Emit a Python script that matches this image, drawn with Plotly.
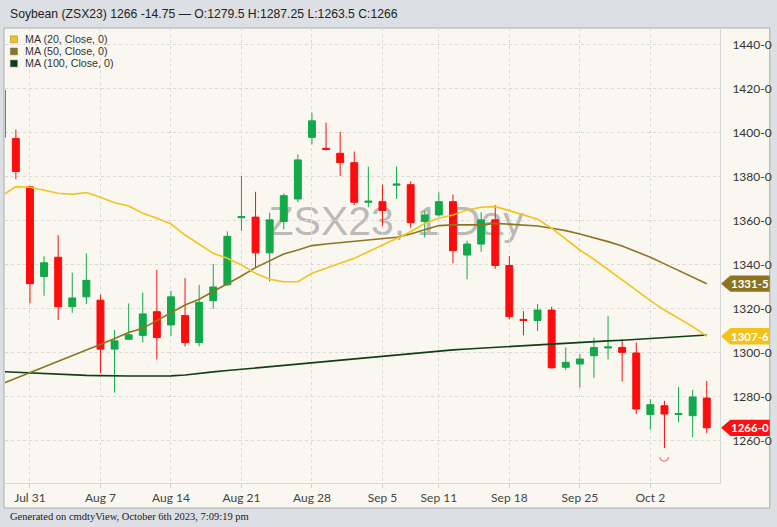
import plotly.graph_objects as go

# Soybean ZSX23 daily candles with moving averages
dates = [
    "2023-07-27", "2023-07-28", "2023-07-31", "2023-08-01", "2023-08-02", "2023-08-03", "2023-08-04",
    "2023-08-07", "2023-08-08", "2023-08-09", "2023-08-10", "2023-08-11",
    "2023-08-14", "2023-08-15", "2023-08-16", "2023-08-17", "2023-08-18",
    "2023-08-21", "2023-08-22", "2023-08-23", "2023-08-24", "2023-08-25",
    "2023-08-28", "2023-08-29", "2023-08-30", "2023-08-31", "2023-09-01",
    "2023-09-05", "2023-09-06", "2023-09-07", "2023-09-08",
    "2023-09-11", "2023-09-12", "2023-09-13", "2023-09-14", "2023-09-15",
    "2023-09-18", "2023-09-19", "2023-09-20", "2023-09-21", "2023-09-22",
    "2023-09-25", "2023-09-26", "2023-09-27", "2023-09-28", "2023-09-29",
    "2023-10-02", "2023-10-03", "2023-10-04", "2023-10-05", "2023-10-06",
]

opens = [1419.5, 1397.5, 1375.5, 1334.75, 1343.5, 1321, 1325.5, 1324, 1301.75, 1306.25,
         1308, 1318.75, 1312.75, 1317, 1304.75, 1323.75, 1331, 1361.5, 1361.75, 1345.5,
         1359.75, 1370, 1398, 1393, 1390.75, 1386.5, 1368.5, 1368.75, 1376.25, 1376.5,
         1359.75, 1362.75, 1368.75, 1344.5, 1349.5, 1360.5, 1339.75, 1315.25, 1314.75, 1319.5,
         1293.5, 1295, 1298.75, 1302.25, 1302.5, 1300, 1272, 1276, 1272, 1271.5, 1279.5]
highs = [1420, 1401.5, 1376, 1344, 1353.5, 1336.5, 1345.25, 1326.5, 1310.5, 1322.5,
         1327.5, 1337.75, 1328.25, 1334, 1331, 1340.5, 1355.25, 1380.5, 1373.25, 1363.75,
         1372.5, 1390.25, 1409.25, 1404.75, 1400.5, 1391.5, 1384.75, 1376.5, 1384.75, 1378,
         1364.5, 1373, 1372, 1351, 1364, 1367.25, 1344, 1319, 1322.25, 1321,
         1302.5, 1299.5, 1307, 1316.75, 1306.25, 1304.75, 1279, 1278.25, 1284.5, 1283.25, 1287.25]
lows = [1396, 1379, 1322.5, 1326, 1315, 1318.25, 1322.25, 1290.75, 1282, 1306,
        1304.75, 1297, 1307.75, 1303, 1303, 1320, 1330.5, 1355.5, 1338.75, 1332.5,
        1356.25, 1368.5, 1394.75, 1392, 1380.5, 1367.25, 1366.25, 1357.75, 1370, 1357,
        1352.5, 1362, 1340.75, 1333.5, 1346, 1338.25, 1315.25, 1308, 1310, 1293,
        1292.25, 1284.25, 1288.75, 1297, 1287, 1272.25, 1265.25, 1256.75, 1268.5, 1261.75, 1263.5]
closes = [1398, 1382.5, 1331.5, 1341, 1321, 1325, 1333, 1301.75, 1305.5, 1308.25,
          1317.75, 1307, 1325.5, 1304.75, 1323, 1330, 1353, 1362, 1345.5, 1360.5,
          1371.5, 1387.75, 1405.5, 1392.5, 1386.5, 1368.5, 1369, 1364.75, 1376.75, 1359.25,
          1362.75, 1368.75, 1346.5, 1349.5, 1360.5, 1339.75, 1316.5, 1314.75, 1319.5, 1293.25,
          1295.75, 1297.25, 1302.5, 1302.75, 1300.25, 1274.5, 1276.5, 1272.25, 1272.5, 1280, 1266]

ma20 = [1371.4, 1375.6, 1375.3, 1374.1, 1372.6, 1372.1, 1372.9, 1370.8, 1368.3, 1366.8,
        1363.5, 1361.2, 1358.6, 1353.6, 1349.5, 1345.3, 1343, 1340, 1336.2, 1333.5,
        1332.4, 1332.4, 1336.2, 1338.5, 1340.8, 1343, 1346, 1349.1, 1352.1, 1355.1,
        1358.9, 1361.2, 1362.7, 1365, 1366.2, 1366.5, 1364.7, 1362.7, 1360.8, 1356.7,
        1351.7, 1346.8, 1342.6, 1337.7, 1333.2, 1328.6, 1323.8, 1319.5, 1315.8, 1312, 1307.6]
ma50 = [1285.9, 1288.5, 1291.2, 1293.8, 1296.4, 1299.1, 1301.4, 1303.9, 1306.7, 1309.3,
        1311.2, 1314.7, 1318.3, 1321.8, 1324.4, 1327.9, 1331.4, 1335, 1338.8, 1341.8,
        1345, 1346.8, 1348.8, 1349.5, 1350.1, 1350.6, 1351.4, 1351.8, 1352.6, 1354.1,
        1355.9, 1357.9, 1358.2, 1358.2, 1358.2, 1358.9, 1358.6, 1358.2, 1357.7, 1356.7,
        1355.6, 1354.1, 1352.4, 1350.6, 1348.6, 1346, 1343.5, 1340.5, 1337.4, 1334.4, 1331.5]
ma100 = [1291.5, 1291.2, 1290.8, 1290.5, 1290.1, 1290, 1289.8, 1289.7, 1289.5, 1289.5,
         1289.5, 1289.5, 1289.6, 1290, 1290.8, 1291.4, 1292, 1292.6, 1293.1, 1293.7,
         1294.3, 1294.9, 1295.5, 1296.1, 1296.7, 1297.3, 1297.9, 1298.5, 1299.1, 1299.7,
         1300.3, 1300.9, 1301.4, 1301.8, 1302.2, 1302.5, 1302.9, 1303.3, 1303.6, 1304,
         1304.4, 1304.7, 1305.1, 1305.5, 1305.8, 1306.2, 1306.6, 1307, 1307.4, 1307.8, 1308.2]

week_ticks = ["2023-07-31", "2023-08-07", "2023-08-14", "2023-08-21", "2023-08-28",
              "2023-09-05", "2023-09-11", "2023-09-18", "2023-09-25", "2023-10-02"]
week_labels = ["Jul 31", "Aug 7", "Aug 14", "Aug 21", "Aug 28",
               "Sep 5", "Sep 11", "Sep 18", "Sep 25", "Oct 2"]
price_ticks = [1260, 1280, 1300, 1320, 1340, 1360, 1380, 1400, 1420, 1440]
price_labels = [f"{p}-0" for p in price_ticks]

ma_names = ["MA (20, Close, 0)", "MA (50, Close, 0)", "MA (100, Close, 0)"]
ma_colors = ["#f2c31b", "#8d7520", "#0e3f15"]
tag_labels = ["1307-6", "1331-5", "1266-0"]

UP = "#13a84a"
DOWN = "#fc0d0d"

fig = go.Figure()

fig.add_trace(go.Candlestick(
    x=dates, open=opens, high=highs, low=lows, close=closes,
    increasing=dict(line=dict(color=UP, width=1), fillcolor=UP),
    decreasing=dict(line=dict(color=DOWN, width=1), fillcolor=DOWN),
    whiskerwidth=0, showlegend=False, hoverinfo="skip",
))

for vals, color in zip([ma100, ma50, ma20], [ma_colors[2], ma_colors[1], ma_colors[0]]):
    fig.add_trace(go.Scatter(x=dates, y=vals, mode="lines",
                             line=dict(color=color, width=1.6),
                             showlegend=False, hoverinfo="skip"))

# panel and watermark
shapes = [
    dict(type="rect", xref="paper", yref="paper", x0=-0.0014, x1=1.0696, y0=-0.055, y1=1.0,
         fillcolor="#faf7f0", line=dict(color="#a9adb2", width=1), layer="below"),
    dict(type="rect", xref="paper", yref="paper", x0=0.347, x1=0.747, y0=0.50, y1=0.67,
         fillcolor="rgba(0,0,0,0)", line=dict(width=0), layer="below",
         label=dict(text="ZSX23, 1 Day", font=dict(size=41, color="rgba(125,125,125,0.5)",
                                                  family="Liberation Sans"),
                    textposition="middle center", padding=0),
         ),
]

annotations = [
    dict(text="Soybean (ZSX23) 1266 -14.75 \u2014 O:1279.5 H:1287.25 L:1263.5 C:1266",
         xref="paper", yref="paper", x=0.004, y=1.031, xanchor="left", yanchor="middle",
         showarrow=False, font=dict(size=12.2, color="#222", family="Liberation Sans")),
    dict(text="Generated on cmdtyView, October 6th 2023, 7:09:19 pm",
         xref="paper", yref="paper", x=0.004, y=-0.0747, xanchor="left", yanchor="middle",
         showarrow=False, font=dict(size=10.5, color="#222", family="Liberation Sans Narrow")),
]

# legend boxes
for i, (name, color) in enumerate(zip(ma_names, ma_colors)):
    ypos = 1 - (11.3 + 12.1 * i) / 455
    shapes.append(dict(type="rect", xref="paper", yref="paper",
                       x0=0.0075, x1=0.0175, y0=ypos - 0.0075, y1=ypos + 0.0075,
                       fillcolor=color, line=dict(color="#777", width=0.5)))
    annotations.append(dict(text=name, xref="paper", yref="paper", x=0.0245, y=ypos,
                            xanchor="left", yanchor="middle", showarrow=False,
                            font=dict(size=10.7, color="#333", family="Liberation Sans")))

# last value tags on the price axis
tag_values = [ma20[-1], ma50[-1], closes[-1]]
tag_colors = [ma_colors[0], "#8d7520", "#ff1010"]
for val, txt, color in zip(tag_values, tag_labels, tag_colors):
    h = 3.7
    shapes.append(dict(type="path", xref="paper", yref="y",
                       path=f"M 1.0015 {val} L 1.0145 {val + h} L 1.0696 {val + h} "
                            f"L 1.0696 {val - h} L 1.0145 {val - h} Z",
                       fillcolor=color, line=dict(width=0)))
    annotations.append(dict(text=f"<b>{txt}</b>", xref="paper", yref="y", x=1.0425, y=val,
                            xanchor="center", yanchor="middle", showarrow=False,
                            font=dict(size=11.5, color="white", family="Lato")))

# low marker under the lowest candle
lo = lows.index(min(lows))
annotations.append(dict(text="\u25e1", x=dates[lo], y=lows[lo], xref="x", yref="y",
                        yanchor="top", yshift=1, showarrow=False,
                        font=dict(size=12, color=DOWN)))

fig.update_layout(
    width=777, height=527,
    margin=dict(l=5, r=54, t=28, b=44),
    paper_bgcolor="#dcdfe3",
    plot_bgcolor="#faf7f0",
    font=dict(family="Liberation Sans", color="#333"),
    shapes=shapes,
    annotations=annotations,
    showlegend=False,
    xaxis=dict(
        type="category", range=[0.23, 50.94], rangeslider=dict(visible=False),
        tickvals=week_ticks, ticktext=week_labels,
        showgrid=True, gridcolor="#d9d9d9", griddash="dot", gridwidth=1,
        ticks="outside", ticklen=4, tickcolor="#d0d0d0",
        showline=True, linecolor="#d6d6d6", linewidth=1,
        tickfont=dict(size=12, color="#444", family="Lato"),
        zeroline=False,
    ),
    yaxis=dict(
        side="right", range=[1240.9, 1447.7],
        tickvals=price_ticks, ticktext=price_labels,
        showgrid=True, gridcolor="#d9d9d9", griddash="dot", gridwidth=1,
        ticks="", ticklabelstandoff=9,
        showline=True, linecolor="#d6d6d6", linewidth=1,
        tickfont=dict(size=12, color="#333", family="Lato"),
        zeroline=False,
    ),
)

fig.write_html("out.html", config={"displayModeBar": False},
               post_script="document.body.style.margin='0';")
